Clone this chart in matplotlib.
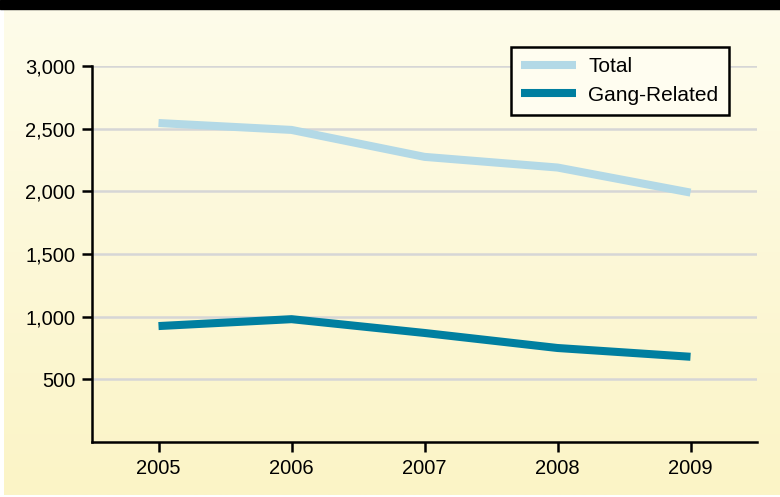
import matplotlib.pyplot as plt
import numpy as np

# data
years = [2005, 2006, 2007, 2008, 2009]
total = [2545, 2490, 2275, 2190, 1990]
gang_related = [925, 980, 870, 750, 680]
y_ticks = [500, 1000, 1500, 2000, 2500, 3000]

plt.rcParams['font.family'] = ['Liberation Sans', 'DejaVu Sans']

W, H = 780, 497
fig = plt.figure(figsize=(W / 100, H / 100), dpi=100)
fig.patch.set_facecolor('white')

# background: black strip on top, cream gradient below
bg = fig.add_axes([0, 0, 1, 1])
bg.set_xlim(0, W)
bg.set_ylim(H, 0)
bg.axis('off')
top_c = np.array([254, 252, 234]) / 255
bot_c = np.array([251, 244, 198]) / 255
t = np.linspace(0, 1, 256)[:, None]
grad = (top_c * (1 - t) + bot_c * t)[:, None, :]
bg.imshow(grad, extent=[4, W, H - 2, 9], aspect='auto', zorder=0)
bg.add_patch(plt.Rectangle((0, 0), W, 9, color='black', zorder=1))

ax = fig.add_axes([92 / W, (H - 442) / H, (757 - 92) / W, (442 - 66) / H])
ax.patch.set_alpha(0)

ax.plot(years, total, color='#b3d9e6', lw=5.8, solid_capstyle='butt',
        solid_joinstyle='round', label='Total', zorder=3)
ax.plot(years, gang_related, color='#007fa0', lw=5.8, solid_capstyle='butt',
        solid_joinstyle='round', label='Gang-Related', zorder=3)

ax.set_xlim(2004.5, 2009.5)
ax.set_ylim(0, 3000)
ax.set_xticks(years)
ax.set_yticks(y_ticks)
ax.set_yticklabels([f'{v:,}' for v in y_ticks])
ax.yaxis.grid(True, color='#d6d6d6', lw=1.8, zorder=1)
ax.set_axisbelow(True)

for s in ['top', 'right']:
    ax.spines[s].set_visible(False)
for s in ['left', 'bottom']:
    ax.spines[s].set_linewidth(1.8)
    ax.spines[s].set_color('black')
ax.tick_params(axis='both', direction='out', length=7, width=1.8,
               labelsize=14.5, colors='black', pad=5)

leg = ax.legend(loc='upper left', bbox_to_anchor=((511 - 92) / (757 - 92), (442 - 47) / (442 - 66)),
                frameon=True, fancybox=False, fontsize=15, handlelength=2.6,
                borderpad=0.5, labelspacing=0.45, handletextpad=0.6, borderaxespad=0)
leg.get_frame().set_edgecolor('black')
leg.get_frame().set_linewidth(1.8)
leg.get_frame().set_facecolor('#fffdf0')
leg.get_frame().set_alpha(1)

fig.savefig('out.png', dpi=100)
